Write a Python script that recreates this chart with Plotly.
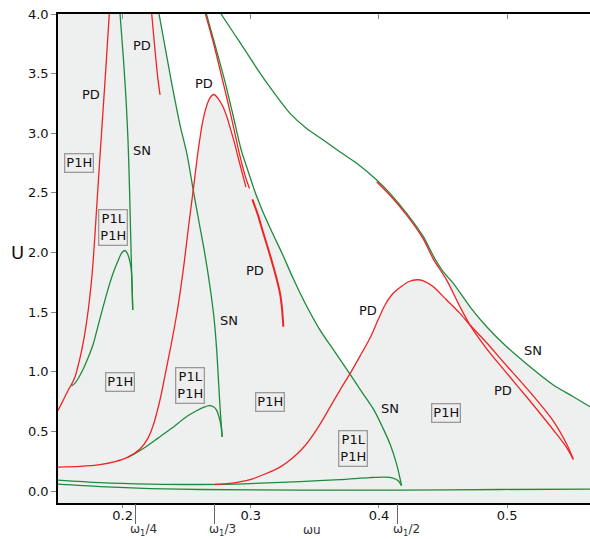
import numpy as np
import plotly.graph_objects as go

# ---------------------------------------------------------------
# Axis extents
# ---------------------------------------------------------------
W_MIN, W_MAX = 0.1496, 0.5646
U_MIN, U_MAX = -0.1, 4.0

RED = "#ef2323"
GREEN = "#1f8a3c"
SHADE = "#eef0ef"
FONT = "DejaVu Sans"

# ---------------------------------------------------------------
# Period-doubling (PD) boundaries  (omega, U)
# ---------------------------------------------------------------
pd_left_w = [0.1896, 0.1871, 0.1845, 0.1818, 0.1795, 0.1771, 0.1754, 0.1732,
             0.1707, 0.1681, 0.1656, 0.1629, 0.1601, 0.1576, 0.1539, 0.1496]
pd_left_u = [4.000, 3.572, 3.153, 2.717, 2.331, 1.937, 1.727, 1.518,
             1.333, 1.182, 1.065, 0.958, 0.893, 0.847, 0.767, 0.675]

pd_short_w = [0.2227, 0.2249, 0.2272, 0.2292]
pd_short_u = [4.000, 3.740, 3.488, 3.321]

pd_arch1_w = [0.1496, 0.1668, 0.1824, 0.1941, 0.2042, 0.2136, 0.2198, 0.2237,
              0.2268, 0.2300, 0.2339, 0.2378, 0.2417, 0.2448, 0.2481, 0.2514,
              0.2551, 0.2590, 0.2627, 0.2666, 0.2689, 0.2713, 0.2748, 0.2783,
              0.2814, 0.2844, 0.2873, 0.2900, 0.2931, 0.2962]
pd_arch1_u = [0.201, 0.207, 0.222, 0.247, 0.285, 0.352, 0.444, 0.545,
              0.662, 0.805, 1.015, 1.224, 1.451, 1.660, 1.920, 2.214,
              2.524, 2.860, 3.111, 3.262, 3.308, 3.325, 3.287, 3.223,
              3.136, 3.027, 2.918, 2.803, 2.675, 2.549]

pd_upper_w = [0.2646, 0.2713, 0.2779, 0.2826, 0.2867, 0.2904, 0.2939, 0.2966, 0.2990]
pd_upper_u = [4.000, 3.740, 3.447, 3.237, 3.044, 2.860, 2.709, 2.608, 2.537]

pd_lower_w = [0.3012, 0.3056, 0.3098, 0.3138, 0.3176, 0.3204, 0.3228, 0.3243, 0.3254]
pd_lower_u = [2.446, 2.314, 2.161, 2.021, 1.881, 1.769, 1.658, 1.535, 1.378]

pd_arch2_w = [0.2721, 0.2853, 0.2994, 0.3111, 0.3228, 0.3321, 0.3407, 0.3485,
              0.3555, 0.3618, 0.3696, 0.3774, 0.3852, 0.3930, 0.3992, 0.4047,
              0.4109, 0.4179, 0.4234, 0.4296, 0.4351, 0.4424, 0.4528, 0.4632,
              0.4710, 0.4842, 0.4970, 0.5178, 0.5360, 0.5464, 0.5516]
pd_arch2_u = [0.055, 0.067, 0.096, 0.143, 0.201, 0.273, 0.361, 0.470,
              0.587, 0.704, 0.847, 0.985, 1.132, 1.283, 1.434, 1.560,
              1.656, 1.719, 1.757, 1.772, 1.761, 1.713, 1.602, 1.490,
              1.392, 1.241, 1.082, 0.830, 0.587, 0.394, 0.266]

pd_right_w = [0.3982, 0.4086, 0.4216, 0.4346, 0.4424, 0.4528, 0.4632, 0.4710,
              0.4842, 0.4970, 0.5178, 0.5360, 0.5464, 0.5516]
pd_right_u = [2.594, 2.480, 2.313, 2.113, 1.945, 1.769, 1.545, 1.392,
              1.191, 1.023, 0.755, 0.512, 0.365, 0.266]

# ---------------------------------------------------------------
# Saddle-node (SN) boundaries  (omega, U)
# ---------------------------------------------------------------
sn_left_w = [0.1980, 0.2007, 0.2027, 0.2042, 0.2052, 0.2060, 0.2069, 0.2079]
sn_left_u = [4.000, 3.614, 3.279, 2.943, 2.608, 2.272, 1.895, 1.518]

sn_left_loop_w = [0.2079, 0.2066, 0.2050, 0.2034, 0.2019, 0.1995, 0.1960, 0.1921,
                  0.1882, 0.1839, 0.1800, 0.1771, 0.1730, 0.1693, 0.1656, 0.1625, 0.1601]
sn_left_loop_u = [1.518, 1.870, 1.954, 2.000, 2.017, 2.000, 1.920, 1.811,
                  1.677, 1.509, 1.350, 1.233, 1.115, 1.023, 0.948, 0.901, 0.881]

sn_mid_w = [0.2284, 0.2378, 0.2448, 0.2502, 0.2551, 0.2596, 0.2643, 0.2682,
            0.2713, 0.2734, 0.2750, 0.2764, 0.2777]
sn_mid_u = [4.000, 3.447, 3.069, 2.826, 2.524, 2.256, 1.979, 1.711,
            1.451, 1.182, 0.889, 0.637, 0.453]

sn_mid_loop_w = [0.2777, 0.2768, 0.2752, 0.2733, 0.2705, 0.2674, 0.2635, 0.2573,
                 0.2495, 0.2385, 0.2276, 0.2167, 0.2089, 0.2042]
sn_mid_loop_u = [0.453, 0.545, 0.621, 0.679, 0.709, 0.717, 0.704, 0.671,
                 0.621, 0.528, 0.444, 0.361, 0.310, 0.285]

sn_right_w = [0.2654, 0.2721, 0.2795, 0.2861, 0.2925, 0.2981, 0.3033, 0.3095,
              0.3165, 0.3243, 0.3329, 0.3423, 0.3540, 0.3657, 0.3774, 0.3867,
              0.3961, 0.4031, 0.4086, 0.4133, 0.4160, 0.4176]
sn_right_u = [4.000, 3.740, 3.447, 3.153, 2.860, 2.675, 2.507, 2.340,
              2.172, 1.996, 1.786, 1.577, 1.350, 1.166, 0.981, 0.830,
              0.679, 0.528, 0.394, 0.243, 0.126, 0.046]

sn_right_base_w = [0.1496, 0.1824, 0.2214, 0.2604, 0.2994, 0.3384, 0.3696, 0.3930,
                   0.4047, 0.4109, 0.4148, 0.4176]
sn_right_base_u = [0.092, 0.071, 0.059, 0.055, 0.063, 0.080, 0.096, 0.113,
                   0.117, 0.109, 0.088, 0.046]

sn_base_w = [0.1496, 0.1824, 0.2214, 0.2604, 0.3384, 0.4164, 0.4944, 0.5646]
sn_base_u = [0.059, 0.038, 0.021, 0.013, 0.008, 0.008, 0.013, 0.017]

sn_outer_w = [0.2768, 0.2861, 0.2955, 0.3056, 0.3165, 0.3306, 0.3431, 0.3566,
              0.3697, 0.3826, 0.3982, 0.4086, 0.4216, 0.4346, 0.4424, 0.4502,
              0.4580, 0.4710, 0.4840, 0.4996, 0.5178, 0.5360, 0.5516, 0.5646]
sn_outer_u = [4.000, 3.849, 3.698, 3.530, 3.363, 3.167, 3.044, 2.943,
              2.843, 2.748, 2.608, 2.496, 2.329, 2.133, 1.971, 1.837,
              1.742, 1.545, 1.378, 1.210, 1.042, 0.889, 0.791, 0.707]

# ---------------------------------------------------------------
# Region labels
# ---------------------------------------------------------------
curve_labels = [("PD", 0.1751, 3.329), ("PD", 0.2149, 3.740), ("PD", 0.2637, 3.419),
                ("PD", 0.3033, 1.853), ("PD", 0.3917, 1.518), ("PD", 0.4970, 0.841),
                ("SN", 0.2149, 2.854), ("SN", 0.2832, 1.434), ("SN", 0.4086, 0.694),
                ("SN", 0.5199, 1.177)]
region_labels = [("P1H", 0.1660, 2.753), ("P1L<br>P1H", 0.1927, 2.208),
                 ("P1H", 0.1980, 0.917), ("P1L<br>P1H", 0.2526, 0.883),
                 ("P1H", 0.3150, 0.744), ("P1L<br>P1H", 0.3795, 0.358),
                 ("P1H", 0.4523, 0.652)]

x_ticks = [0.2, 0.3, 0.4, 0.5]
y_ticks = [0.0, 0.5, 1.0, 1.5, 2.0, 2.5, 3.0, 3.5, 4.0]
resonance_ticks = [0.2101, 0.2717, 0.4146]
resonance_labels = [("ω<sub>1</sub>/4", 0.2162), ("ω<sub>1</sub>/3", 0.2779),
                    ("ωu", 0.3481), ("ω<sub>1</sub>/2", 0.4218)]

A = np.asarray

# ---------------------------------------------------------------
# Unshaded region: bounded by the SN/PD curves, built from the arrays
# ---------------------------------------------------------------
mw, mu = A(sn_mid_w), A(sn_mid_u)
a1w, a1u = A(pd_arch1_w), A(pd_arch1_u)
cw, cu = A(sn_right_w), A(sn_right_u)
a2w, a2u = A(pd_arch2_w), A(pd_arch2_u)
rw, ru = A(pd_right_w), A(pd_right_u)
ow, ou = A(sn_outer_w), A(sn_outer_u)

cross_mid = mu >= 2.52                      # sn_mid down to where arch 1 crosses it
arch1_top = a1w >= 0.2551                   # arch 1 beyond that crossing
right_seg = (cu <= 2.55) & (cu >= 0.98)     # sn_right down to arch 2
arch2_top = (a2w >= 0.3774) & (a2w <= 0.4710)
right_up = rw <= 0.4710
outer_seg = ow >= 0.3982

poly_w = np.concatenate([mw[cross_mid], a1w[arch1_top], cw[right_seg], a2w[arch2_top],
                         rw[right_up][::-1], ow[outer_seg],
                         [W_MAX + 0.02, W_MAX + 0.02, mw[0]]])
poly_u = np.concatenate([mu[cross_mid], a1u[arch1_top], cu[right_seg], a2u[arch2_top],
                         ru[right_up][::-1], ou[outer_seg],
                         [ou[-1], U_MAX + 0.2, U_MAX + 0.2]])

fig = go.Figure()
fig.add_trace(go.Scatter(x=poly_w, y=poly_u, mode="lines", fill="toself",
                         fillcolor="white", line=dict(width=0, shape="spline", smoothing=0.6),
                         hoverinfo="skip", showlegend=False))


def curve(w, u, color, width=1.3):
    fig.add_trace(go.Scatter(x=w, y=u, mode="lines",
                             line=dict(color=color, width=width, shape="spline", smoothing=0.8),
                             hoverinfo="skip", showlegend=False))


for w, u in [(sn_base_w, sn_base_u), (sn_right_base_w, sn_right_base_u),
             (sn_left_w, sn_left_u), (sn_left_loop_w, sn_left_loop_u),
             (sn_mid_w, sn_mid_u), (sn_mid_loop_w, sn_mid_loop_u),
             (sn_right_w, sn_right_u), (sn_outer_w, sn_outer_u)]:
    curve(w, u, GREEN)

for w, u in [(pd_left_w, pd_left_u), (pd_short_w, pd_short_u),
             (pd_arch1_w, pd_arch1_u), (pd_upper_w, pd_upper_u),
             (pd_arch2_w, pd_arch2_u), (pd_right_w, pd_right_u)]:
    curve(w, u, RED)
curve(pd_lower_w, pd_lower_u, RED, 2.0)

# helper traces so the extra tick axes are rendered
for ax in ("x2", "x3"):
    fig.add_trace(go.Scatter(x=[W_MIN], y=[U_MIN - 1], xaxis=ax, mode="markers",
                             marker=dict(size=1, opacity=0), hoverinfo="skip",
                             showlegend=False))

annotations = []
for text, w, u in curve_labels:
    annotations.append(dict(x=w, y=u, xref="x", yref="y", text=text, showarrow=False,
                            font=dict(family=FONT, size=13, color="#111")))
for text, w, u in region_labels:
    annotations.append(dict(x=w, y=u, xref="x", yref="y", text=text, showarrow=False,
                            font=dict(family=FONT, size=13, color="#111"),
                            bordercolor="#9a9a9a", borderwidth=1.3, borderpad=1,
                            bgcolor="#eeeeee"))
for text, w in resonance_labels:
    annotations.append(dict(x=w, y=-0.055, xref="x", yref="paper", text=text,
                            showarrow=False, xanchor="center", yanchor="middle",
                            font=dict(family=FONT, size=12, color="#333")))
annotations.append(dict(x=-0.077, y=2.0, xref="paper", yref="y", text="U",
                        showarrow=False, xanchor="center", yanchor="middle",
                        font=dict(family=FONT, size=18, color="#111")))

axis_common = dict(range=[W_MIN, W_MAX], showgrid=False, zeroline=False)
fig.update_layout(
    width=590, height=539,
    margin=dict(l=58, r=0, t=14, b=36),
    plot_bgcolor=SHADE, paper_bgcolor="white",
    font=dict(family=FONT, size=13, color="#111"),
    annotations=annotations,
    xaxis=dict(**axis_common, tickvals=x_ticks, ticktext=[f"{v:.1f}" for v in x_ticks],
               ticks="outside", ticklen=3, tickcolor="#888", showline=True,
               linecolor="black", linewidth=1.5, mirror=True, ticklabelstandoff=-3,
               tickfont=dict(family=FONT, size=13, color="#111")),
    xaxis2=dict(**axis_common, overlaying="x", anchor="y", side="bottom",
                tickvals=resonance_ticks, ticks="outside", ticklen=20, tickwidth=1,
                tickcolor="#666", showticklabels=False, showline=False),
    xaxis3=dict(**axis_common, overlaying="x", anchor="y", side="top",
                tickvals=x_ticks, ticks="inside", ticklen=5, tickcolor="#888",
                showticklabels=False, showline=False),
    yaxis=dict(range=[U_MIN, U_MAX], tickvals=y_ticks,
               ticktext=[f"{v:.1f}" for v in y_ticks], ticks="outside", ticklen=5,
               tickcolor="#888", showline=True, linecolor="black", linewidth=1.5,
               showgrid=False, zeroline=False,
               tickfont=dict(family=FONT, size=13, color="#111")),
)

fig.write_html("out.html")
